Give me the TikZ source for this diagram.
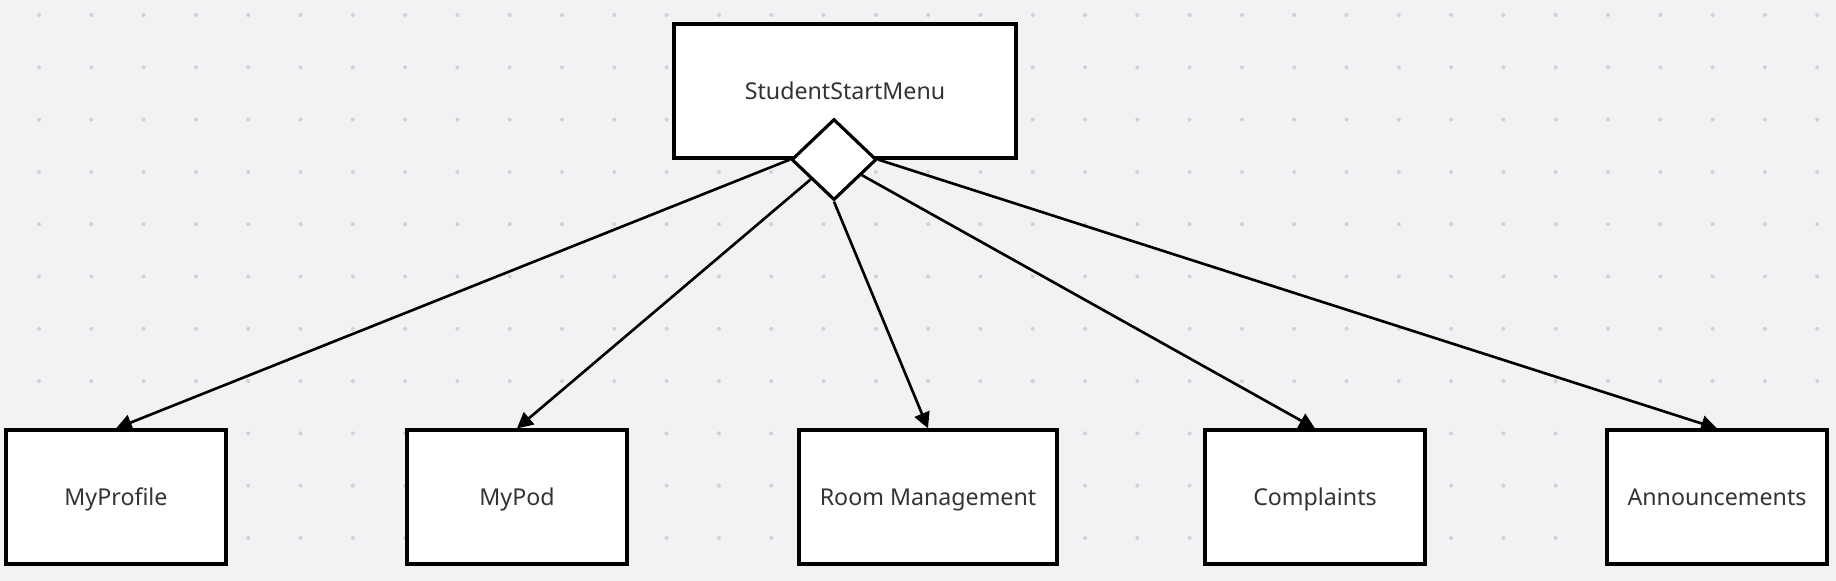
\documentclass[tikz,border=0pt]{standalone}
\usepackage{fontspec}
\setmainfont{Noto Sans}
\usepackage{tikz}
\usetikzlibrary{shapes.geometric, arrows.meta, positioning}
\definecolor{canvas}{RGB}{242, 242, 244}
\definecolor{griddot}{RGB}{208, 208, 214}
\definecolor{inktext}{RGB}{51, 51, 51}

\begin{document}
\begin{tikzpicture}[node distance=4cm, auto]
        \tikzstyle{box} = [rectangle, minimum width=2.2cm, minimum height=1.34cm, text centered, text height=4.8pt, text depth=0.2pt, draw=black, line width=0.9pt, fill=white, text=inktext, font=\fontsize{6.6}{8}\selectfont]
        \tikzstyle{gate} = [diamond, draw=black, line width=0.9pt, fill=white, inner sep=0pt, minimum width=0.85cm, minimum height=0.81cm]
        \tikzstyle{arrow} = [line width=0.75pt, ->, >={Triangle[length=4.5pt, width=4.5pt]}]

        % canvas with dotted grid
        \fill[canvas] (0,0) rectangle (18.36,-5.81);
        \useasboundingbox (0,0) rectangle (18.36,-5.81);
        \foreach \i in {0,...,34}
            \foreach \j in {0,...,10}
                \fill[griddot] (0.39+0.523*\i, -0.15-0.523*\j) circle (0.02);

        \node (menu) [box, minimum width=3.42cm] at (8.45,-0.91) {StudentStartMenu};
        \node (choice) [gate] at ([xshift=-0.11cm]menu.south) {};

        \node (room) [box, minimum width=2.58cm, below of=menu, xshift=0.83cm, yshift=-0.06cm] {Room Management};
        \node (mypod) [box, left of=room, xshift=-0.11cm] {MyPod};
        \node (myprofile) [box, left of=mypod, xshift=-0.01cm] {MyProfile};
        \node (complaints) [box, right of=room, xshift=-0.13cm] {Complaints};
        \node (announcements) [box, right of=complaints, xshift=0.02cm] {Announcements};

        \draw [arrow] (choice.west) -- (myprofile.north);
        \draw [arrow] (choice) -- (mypod.north);
        \draw [arrow] (choice.south) -- (room.north);
        \draw [arrow] (choice) -- (complaints.north);
        \draw [arrow] (choice.east) -- (announcements.north);
    \end{tikzpicture}
\end{document}
